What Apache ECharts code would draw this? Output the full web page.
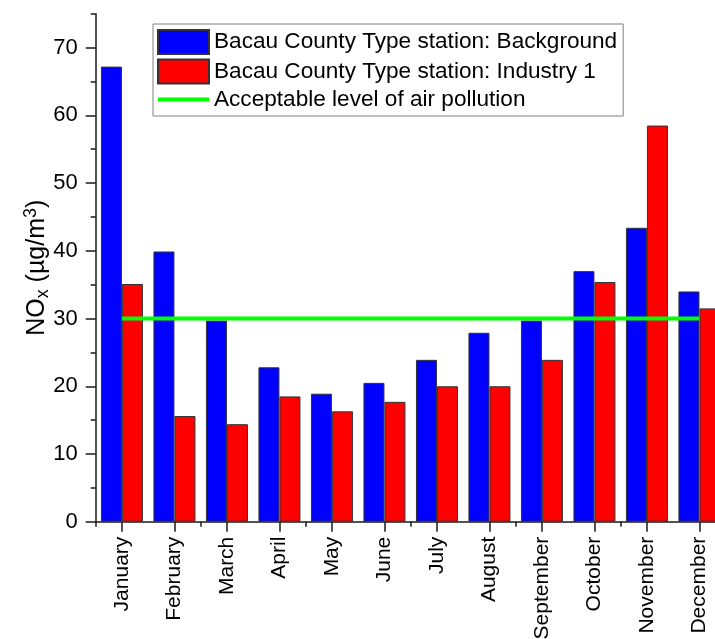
<!DOCTYPE html>
<html>
<head>
<meta charset="utf-8">
<script src="https://cdn.jsdelivr.net/npm/echarts@6/dist/echarts.min.js"></script>
<style>
  html, body { margin: 0; padding: 0; background: #fff; }
  #chart { width: 715px; height: 639px; }
</style>
</head>
<body>
<div id="chart"></div>
<script>
// Monthly NOx concentrations, Bacau County monitoring stations
const months = ['January', 'February', 'March', 'April', 'May', 'June',
  'July', 'August', 'September', 'October', 'November', 'December'];
const background = [67.2, 39.9, 29.7, 22.8, 18.9, 20.5, 23.9, 27.9, 29.7, 37.0, 43.4, 34.0];
const industry1 = [35.1, 15.6, 14.4, 18.5, 16.3, 17.7, 20.0, 20.0, 23.9, 35.4, 58.5, 31.5];
const acceptableLevel = months.map(() => 30);

const seriesNames = [
  'Bacau County Type station: Background',
  'Bacau County Type station: Industry 1',
  'Acceptable level of air pollution'
];

const FONT = 'Liberation Sans, Arial, sans-serif';
const AXIS_COLOR = '#1a1a1a';

const chart = echarts.init(document.getElementById('chart'), null, { renderer: 'canvas' });

// Pixel layout of the plotting area (the category axis runs past the right edge)
const plotLeft = 95.7;
const plotWidth = 630;
const axisY = 521.7;
const plotBottom = 639 - axisY;
const plotTop = 13.8;
const pxPerUnit = (axisY - plotTop) / 75;

chart.setOption({
  animation: false,
  backgroundColor: '#fff',
  textStyle: { fontFamily: FONT },
  grid: [
    // main plot: axis runs to 75, minor ticks every 5
    { left: plotLeft, width: plotWidth, top: plotTop, bottom: plotBottom, containLabel: false, outerBoundsMode: 'none' },
    // companion grid ending at 70: carries the long ticks and the labels every 10
    { left: plotLeft, width: plotWidth, top: axisY - 70 * pxPerUnit, bottom: plotBottom, containLabel: false, outerBoundsMode: 'none' }
  ],
  legend: {
    orient: 'vertical',
    left: 153,
    top: 24,
    itemWidth: 51,
    itemHeight: 24,
    itemGap: 3.5,
    padding: [5, 6, 5, 4],
    borderColor: '#808080',
    borderWidth: 1,
    backgroundColor: '#fff',
    symbolKeepAspect: true,
    textStyle: { fontFamily: FONT, fontSize: 22.6, color: '#000' },
    data: [
      { name: seriesNames[0], icon: 'rect' },
      { name: seriesNames[1], icon: 'rect' },
      { name: seriesNames[2], icon: 'path://M0,0H102V8H0Z' }
    ]
  },
  xAxis: [
    {
      gridIndex: 0,
      type: 'category',
      position: 'bottom',
      data: months,
      boundaryGap: true,
      axisLine: { lineStyle: { color: AXIS_COLOR, width: 1.5 } },
      axisTick: { show: true, alignWithLabel: false, length: 5, lineStyle: { color: AXIS_COLOR, width: 1.5 } },
      axisLabel: { show: false },
      splitLine: { show: false }
    },
    {
      gridIndex: 0,
      type: 'category',
      position: 'bottom',
      data: months,
      boundaryGap: true,
      axisLine: { show: false },
      axisTick: { show: true, alignWithLabel: true, length: 10, lineStyle: { color: AXIS_COLOR, width: 1.5 } },
      axisLabel: {
        show: true, interval: 0, rotate: 90, margin: 15,
        fontFamily: FONT, fontSize: 21, color: '#000'
      },
      splitLine: { show: false }
    },
    {
      gridIndex: 1,
      type: 'category',
      data: months,
      show: false
    }
  ],
  yAxis: [
    {
      gridIndex: 0,
      type: 'value',
      min: 0,
      max: 75,
      interval: 5,
      name: '{a|NO}{sub|x}{a| (µg/m}{sup|3}{a|)}',
      nameLocation: 'middle',
      nameGap: 44,
      nameTextStyle: {
        fontFamily: FONT, color: '#000',
        rich: {
          a: { fontFamily: FONT, fontSize: 25, color: '#000', lineHeight: 30 },
          sub: { fontFamily: FONT, fontSize: 18, color: '#000', verticalAlign: 'bottom', lineHeight: 18 },
          sup: { fontFamily: FONT, fontSize: 18, color: '#000', verticalAlign: 'top', lineHeight: 18 }
        }
      },
      axisLine: { show: true, lineStyle: { color: AXIS_COLOR, width: 1.5 } },
      axisTick: { show: true, length: 5, lineStyle: { color: AXIS_COLOR, width: 1.5 } },
      axisLabel: { show: false },
      splitLine: { show: false }
    },
    {
      gridIndex: 1,
      type: 'value',
      min: 0,
      max: 70,
      interval: 10,
      axisLine: { show: false },
      axisTick: { show: true, length: 10, lineStyle: { color: AXIS_COLOR, width: 1.5 } },
      axisLabel: { show: true, margin: 18, fontFamily: FONT, fontSize: 22, color: '#000' },
      splitLine: { show: false }
    }
  ],
  series: [
    {
      name: seriesNames[0],
      type: 'bar',
      xAxisIndex: 0,
      yAxisIndex: 0,
      data: background,
      barGap: '0%',
      barCategoryGap: '20%',
      itemStyle: { color: '#0000ff', borderColor: '#333', borderWidth: 1 }
    },
    {
      name: seriesNames[1],
      type: 'bar',
      xAxisIndex: 0,
      yAxisIndex: 0,
      data: industry1,
      barGap: '0%',
      barCategoryGap: '20%',
      itemStyle: { color: '#ff0000', borderColor: '#333', borderWidth: 1 }
    },
    {
      name: seriesNames[2],
      type: 'line',
      xAxisIndex: 0,
      yAxisIndex: 0,
      data: acceptableLevel,
      symbol: 'none',
      showSymbol: false,
      z: 5,
      lineStyle: { color: '#00ff00', width: 4 },
      itemStyle: { color: '#00ff00', borderWidth: 0 }
    }
  ]
});
</script>
</body>
</html>
